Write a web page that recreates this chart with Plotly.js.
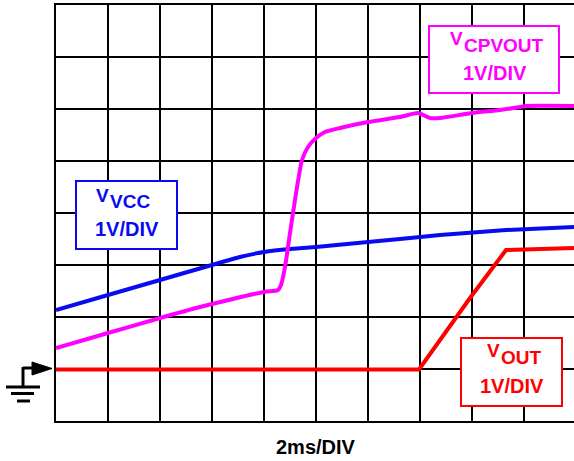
<!DOCTYPE html>
<html>
<head>
<meta charset="utf-8">
<script src="https://cdn.plot.ly/plotly-3.0.1.min.js"></script>
<style>html,body{margin:0;padding:0;background:#fff;}#chart{width:574px;height:461px;}</style>
</head>
<body>
<div id="chart"></div>
<script>
// Values in divisions (x: 2ms/DIV, y: 1V/DIV)
const vccX = [0, 1, 2, 3, 3.538, 4.0, 4.5, 5.0, 6.0, 6.615, 7.385, 8.654, 9.962];
const vccY = [2.135, 2.423, 2.712, 3.0, 3.154, 3.25, 3.308, 3.346, 3.442, 3.5, 3.577, 3.673, 3.731];

const cpX = [0, 1, 2, 2.769, 4.0, 4.269, 4.327, 4.404, 4.5, 4.596, 4.731, 4.846, 5.0, 5.173, 5.462, 6.0, 6.615, 6.962, 7.192, 7.385, 8.0, 8.538, 8.923, 9.038, 9.962];
const cpY = [1.404, 1.692, 1.981, 2.192, 2.481, 2.519, 2.615, 2.962, 3.615, 4.25, 5.019, 5.269, 5.442, 5.558, 5.635, 5.75, 5.846, 5.923, 5.827, 5.827, 5.923, 5.981, 6.038, 6.058, 6.058];

const outX = [0, 6.981, 7.962, 8.654, 9.962];
const outY = [0.99, 0.99, 2.365, 3.288, 3.327];

const xTitle = '2ms/DIV';
const labelVcc = ['V', 'VCC', '1V/DIV'];
const labelCp = ['V', 'CPVOUT', '1V/DIV'];
const labelOut = ['V', 'OUT', '1V/DIV'];

const L = 56, T = 5, W = 518, H = 416;
const px = x => (x - L) / W;
const py = y => (T + H - y) / H;
const FONT = 'Liberation Sans, Arial, sans-serif';

function txt(t, x, y, size, color, anchor) {
  return {text: '<b>' + t + '</b>', xref: 'paper', yref: 'paper', x: px(x), y: py(y),
    xanchor: anchor, yanchor: 'middle', showarrow: false, borderpad: 0, borderwidth: 0,
    font: {family: FONT, size: size, color: color}};
}
function box(x0, y0, x1, y1, color) {
  return {type: 'rect', xref: 'paper', yref: 'paper', x0: px(x0), x1: px(x1), y0: py(y0), y1: py(y1),
    line: {color: color, width: 2}, fillcolor: '#ffffff', layer: 'above'};
}
function seg(x0, y0, x1, y1, w) {
  return {type: 'line', xref: 'paper', yref: 'paper', x0: px(x0), x1: px(x1), y0: py(y0), y1: py(y1),
    line: {color: '#000', width: w}, layer: 'above'};
}

const blue = '#0a0af0', mag = '#ff00ff', red = '#ff0000';

const traces = [
  {x: vccX, y: vccY, mode: 'lines', line: {color: blue, width: 4, shape: 'spline', smoothing: 0.4}, hoverinfo: 'skip'},
  {x: cpX, y: cpY, mode: 'lines', line: {color: mag, width: 4, shape: 'spline', smoothing: 0.6}, hoverinfo: 'skip'},
  {x: outX, y: outY, mode: 'lines', line: {color: red, width: 4}, hoverinfo: 'skip'}
];

const layout = {
  width: 574, height: 461,
  margin: {l: L, r: 0, t: T, b: 461 - T - H},
  paper_bgcolor: '#fff', plot_bgcolor: '#fff',
  showlegend: false,
  xaxis: {range: [0, W / 52], dtick: 1, tick0: 0, showgrid: true, gridcolor: '#000', gridwidth: 2,
    zeroline: false, showticklabels: false, ticks: '', showline: true, linecolor: '#000', linewidth: 2, mirror: true},
  yaxis: {range: [0, 8], dtick: 1, tick0: 0, showgrid: true, gridcolor: '#000', gridwidth: 2,
    zeroline: false, showticklabels: false, ticks: '', showline: true, linecolor: '#000', linewidth: 2},
  shapes: [
    box(76, 181, 177, 249, blue),
    box(429, 26, 559, 93, mag),
    box(461, 338, 562, 406, red),
    // ground symbol
    seg(23, 368, 34, 368, 3),
    seg(23, 367, 23, 387, 3),
    seg(6, 387, 40, 387, 3),
    seg(11, 393.5, 34, 393.5, 3),
    seg(17, 401, 30, 401, 3),
    {type: 'path', xref: 'paper', yref: 'paper',
      path: 'M ' + px(32) + ' ' + py(362) + ' L ' + px(52) + ' ' + py(368.5) + ' L ' + px(32) + ' ' + py(375) + ' Z',
      fillcolor: '#000', line: {color: '#000', width: 1}, layer: 'above'}
  ],
  annotations: [
    txt(labelVcc[0], 108.5, 195, 19, blue, 'right'),
    txt(labelVcc[1], 109.5, 201.5, 19, blue, 'left'),
    txt(labelVcc[2], 126.5, 229, 20, blue, 'center'),
    txt(labelCp[0], 462.5, 38, 19, mag, 'right'),
    txt(labelCp[1], 463.5, 46, 19, mag, 'left'),
    txt(labelCp[2], 495, 72.5, 20, mag, 'center'),
    txt(labelOut[0], 499.5, 350.5, 19, red, 'right'),
    txt(labelOut[1], 500.5, 357, 19, red, 'left'),
    txt(labelOut[2], 511.5, 386, 20, red, 'center'),
    txt(xTitle, 316, 447, 20, '#000', 'center')
  ]
};

Plotly.newPlot('chart', traces, layout, {staticPlot: true, displayModeBar: false});
</script>
</body>
</html>
